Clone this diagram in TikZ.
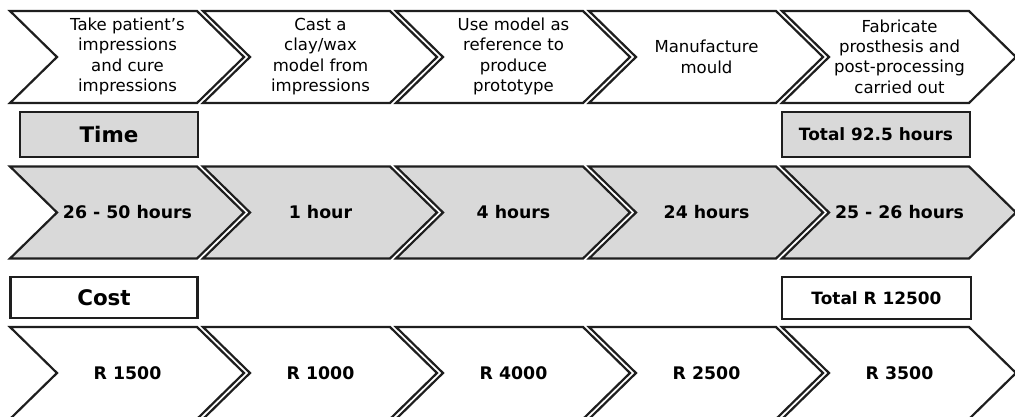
\documentclass[tikz,border=0pt]{standalone}
\usepackage{fontspec}
\setmainfont{DejaVu Sans}
\definecolor{linec}{HTML}{1E1E1E}
\definecolor{greyfill}{HTML}{D9D9D9}
\tikzset{
  chev/.style={draw=linec, line width=2.2bp, line join=miter},
  steptext/.style={align=center, font=\fontsize{16.6}{20.5}\selectfont, inner sep=0pt},
  valtext/.style={font=\bfseries\fontsize{17.4}{20}\selectfont, inner sep=0pt},
  hdrbox/.style={draw=linec, line width=2.8bp, inner sep=0pt, font=\bfseries\fontsize{21.5}{24}\selectfont},
  totbox/.style={draw=linec, line width=2.8bp, inner sep=0pt, font=\bfseries\fontsize{17}{20}\selectfont},
}
\newcommand\chevshape[3]{%
  \filldraw[chev, fill=#3] (#1,#2-46) -- ++(187,0) -- ++(47,46) -- ++(-47,46) -- ++(-187,0) -- ++(47,-46) -- cycle;}
\begin{document}
\begin{tikzpicture}[x=1bp, y=-1bp]
\useasboundingbox (0,0) rectangle (1015,416);
% rows of chevrons
\foreach \i in {0,...,4}{
  \chevshape{10+193*\i}{57}{white}
  \chevshape{10+193*\i}{212.5}{greyfill}
  \chevshape{10+193*\i}{373}{white}
}
% step texts
\node[steptext] (step1) at (127.5,56.5) {Take patient’s\\impressions\\and cure\\impressions};
\node[steptext] (step2) at (320.5,56.5) {Cast a\\clay/wax\\model from\\impressions};
\node[steptext] (step3) at (513.5,56.5) {Use model as\\reference to\\produce\\prototype};
\node[steptext] (step4) at (706.5,57) {Manufacture\\mould};
\node[steptext] (step5) at (899.5,56.5) {Fabricate\\prosthesis and\\post-processing\\carried out};
% time header
\node[hdrbox, fill=greyfill, minimum width=178bp, minimum height=45bp] (timehdr) at (109,134.5) {Time};
\node[totbox, fill=greyfill, minimum width=188bp, minimum height=45bp] (timetot) at (876,134.5) {Total 92.5 hours};
% time values
\node[valtext] (time1) at (127.5,212.5) {26 - 50 hours};
\node[valtext] (time2) at (320.5,212.5) {1 hour};
\node[valtext] (time3) at (513.5,212.5) {4 hours};
\node[valtext] (time4) at (706.5,212.5) {24 hours};
\node[valtext] (time5) at (899.5,212.5) {25 - 26 hours};
% cost header
\node[hdrbox, fill=white, minimum width=187bp, minimum height=41bp] (costhdr) at (104,297.5) {Cost};
\node[totbox, fill=white, minimum width=189bp, minimum height=42bp] (costtot) at (876.5,298) {Total R 12500};
% cost values
\node[valtext] (cost1) at (127.5,373) {R 1500};
\node[valtext] (cost2) at (320.5,373) {R 1000};
\node[valtext] (cost3) at (513.5,373) {R 4000};
\node[valtext] (cost4) at (706.5,373) {R 2500};
\node[valtext] (cost5) at (899.5,373) {R 3500};
\end{tikzpicture}
\end{document}
